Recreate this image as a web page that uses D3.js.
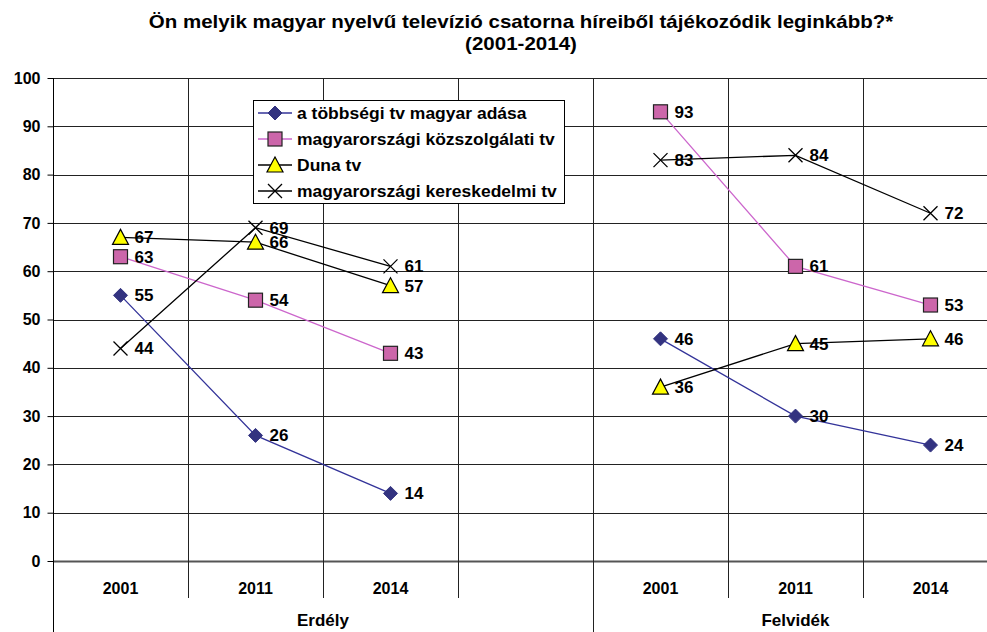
<!DOCTYPE html>
<html><head><meta charset="utf-8">
<script src="https://cdn.jsdelivr.net/npm/d3@7"></script>
<style>body{margin:0;background:#fff}svg{display:block;font-family:"Liberation Sans",Arial,sans-serif}</style>
</head><body><svg id="c" width="987" height="632"></svg>
<script>
const categories = ["2001","2011","2014","","2001","2011","2014"];
const groups = [{name:"Erdély", from:0, to:3}, {name:"Felvidék", from:4, to:6}];
const seriesNames = ["a többségi tv magyar adása","magyarországi közszolgálati tv","Duna tv","magyarországi kereskedelmi tv"];
const s1 = [55,26,14,null,46,30,24];
const s2 = [63,54,43,null,93,61,53];
const s3 = [67,66,57,null,36,45,46];
const s4 = [44,69,61,null,83,84,72];
const yTicks = [0,10,20,30,40,50,60,70,80,90,100];
const titleLines = ["Ön melyik magyar nyelvű televízió csatorna híreiből tájékozódik leginkább?*","(2001-2014)"];

const series = [
  {name:seriesNames[0], values:s1, line:"#333399", marker:"diamond", fill:"#333380", stroke:"#333380"},
  {name:seriesNames[1], values:s2, line:"#CC66CC", marker:"square", fill:"#CC66AA", stroke:"#222"},
  {name:seriesNames[2], values:s3, line:"#000", marker:"triangle", fill:"#FFFF00", stroke:"#000"},
  {name:seriesNames[3], values:s4, line:"#000", marker:"x", fill:"none", stroke:"#000"}
];

const svg = d3.select("#c");
const L=53, R=998, T=78, B=561;
const x = d3.scaleBand().domain(d3.range(categories.length)).range([L,R]).paddingInner(0).paddingOuter(0);
const y = d3.scaleLinear().domain([0,100]).range([B,T]);
const cx = i => x(i) + x.bandwidth()/2;

function stext(g, tx, ty, str, size, sx, anchor){
  return g.append("text").attr("transform",`translate(${tx},${ty}) scale(${sx},1)`)
    .attr("text-anchor",anchor||"start").style("font-size",size+"px").style("font-weight","bold").text(str);
}

// title
const tg = svg.append("g");
titleLines.forEach((t,i)=>stext(tg, 521, 28+i*22, t, 18, 1.14, "middle"));

// horizontal grid
svg.append("g").selectAll("line").data(yTicks).join("line")
  .attr("x1",L).attr("x2",R).attr("y1",d=>Math.round(y(d))+0.5).attr("y2",d=>Math.round(y(d))+0.5)
  .attr("stroke",d=>d===0?"#555":"#222").attr("stroke-width",d=>d===0?2:1);
// vertical grid lines at band boundaries
const bounds = d3.range(1,categories.length).map(i=>x(i));
svg.append("g").selectAll("line").data(bounds).join("line")
  .attr("x1",d=>Math.round(d)+0.5).attr("x2",d=>Math.round(d)+0.5).attr("y1",T).attr("y2",598)
  .attr("stroke","#222");
// y axis
const yAxis = d3.axisLeft(y).tickValues(yTicks).tickSize(6).tickPadding(7);
const ya = svg.append("g").attr("transform",`translate(${L+0.5},0)`).call(yAxis);
ya.select(".domain").attr("d",`M0,${T}V632`).attr("stroke","#000");
ya.selectAll(".tick line").attr("stroke","#000");
ya.selectAll("text").style("font-size","16px").style("font-weight","bold").style("font-family","Liberation Sans, Arial, sans-serif").attr("fill","#000");
// group separators
svg.append("g").selectAll("line").data(groups.slice(1)).join("line")
  .attr("x1",d=>Math.round(x(d.from))+0.5).attr("x2",d=>Math.round(x(d.from))+0.5).attr("y1",T).attr("y2",632).attr("stroke","#222");

// category labels
svg.append("g").selectAll("text").data(categories.map((c,i)=>({c,i}))).join("text")
  .attr("x",d=>cx(d.i)).attr("y",594).attr("text-anchor","middle")
  .style("font-size","16px").style("font-weight","bold").text(d=>d.c);
// group labels
svg.append("g").selectAll("text").data(groups).join("text")
  .attr("x",d=>(x(d.from)+(d.to===categories.length-1?R:x(d.to)+x.bandwidth()))/2)
  .attr("y",626).attr("text-anchor","middle")
  .style("font-size","17px").style("font-weight","bold").text(d=>d.name);

// markers
function drawMarker(g, type, fill, stroke){
  if(type==="diamond") g.append("path").attr("d","M0,-7L7,0L0,7L-7,0Z").attr("fill",fill).attr("stroke",stroke);
  else if(type==="square") g.append("rect").attr("x",-7).attr("y",-7).attr("width",14).attr("height",14).attr("fill",fill).attr("stroke",stroke).attr("stroke-width",1.2);
  else if(type==="triangle") g.append("path").attr("d","M0,-8L8,7L-8,7Z").attr("fill",fill).attr("stroke",stroke).attr("stroke-width",1.2);
  else if(type==="x") g.append("path").attr("d","M-7,-7L7,7M7,-7L-7,7").attr("stroke",stroke).attr("stroke-width",1.3).attr("fill","none");
}

const line = d3.line().defined(d=>d.v!==null).x(d=>cx(d.i)).y(d=>y(d.v));
series.forEach(s=>{
  const pts = s.values.map((v,i)=>({v,i}));
  svg.append("path").datum(pts).attr("d",line).attr("fill","none").attr("stroke",s.line).attr("stroke-width",1.3);
});
series.forEach(s=>{
  const pts = s.values.map((v,i)=>({v,i})).filter(d=>d.v!==null);
  const g = svg.append("g");
  pts.forEach(d=>{
    const mg = g.append("g").attr("transform",`translate(${cx(d.i)},${y(d.v)})`);
    drawMarker(mg, s.marker, s.fill, s.stroke);
  });
  g.selectAll("text").data(pts).join("text")
    .attr("x",d=>cx(d.i)+14).attr("y",d=>y(d.v)+6)
    .style("font-size","17px").style("font-weight","bold").text(d=>d.v);
});

// legend
const lg = svg.append("g");
lg.append("rect").attr("x",253.5).attr("y",100.5).attr("width",311).attr("height",103).attr("fill","#fff").attr("stroke","#000");
series.forEach((s,i)=>{
  const yy = 113 + i*26;
  lg.append("line").attr("x1",258).attr("x2",292).attr("y1",yy).attr("y2",yy).attr("stroke",s.line).attr("stroke-width",1.3);
  const mg = lg.append("g").attr("transform",`translate(275,${yy})`);
  drawMarker(mg, s.marker, s.fill, s.stroke);
  stext(lg, 297, yy+6, s.name, 17, 1.03, "start");
});
</script></body></html>
